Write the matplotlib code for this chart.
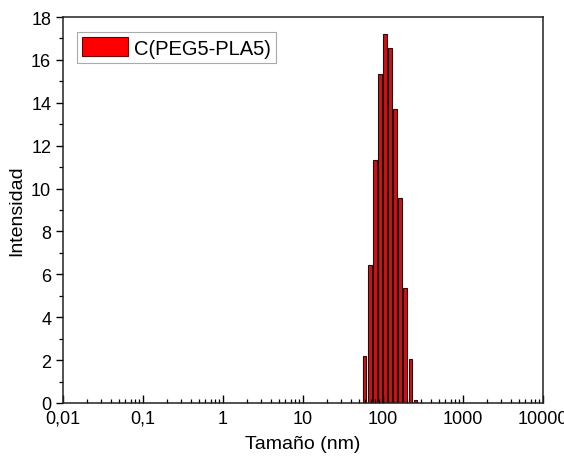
import numpy as np
import matplotlib
matplotlib.use("Agg")
import matplotlib.pyplot as plt
from matplotlib.ticker import FixedLocator, FixedFormatter, LogLocator, NullFormatter

# ------- data -------
sizes_nm = [58.77, 68.06, 78.82, 91.28, 105.7, 122.4, 141.8, 164.2, 190.1, 220.2, 255.0]
intensity = [2.2, 6.45, 11.35, 15.35, 17.2, 16.55, 13.7, 9.55, 5.35, 2.05, 0.15]
series_label = "C(PEG5-PLA5)"

xtick_vals = [0.01, 0.1, 1, 10, 100, 1000, 10000]
xtick_labels = ["0,01", "0,1", "1", "10", "100", "1000", "10000"]
yticks = [0, 2, 4, 6, 8, 10, 12, 14, 16, 18]

plt.rcParams["font.family"] = ["Liberation Sans", "DejaVu Sans"]

fig = plt.figure(figsize=(5.64, 4.60), dpi=100)
ax = fig.add_axes([63 / 564, 56 / 460, 480 / 564, 386 / 460])

# bars centred on log-spaced size classes, width as fraction of the class step
x = np.array(sizes_nm)
step = np.log10(x[1] / x[0])
half = 0.75 * step / 2
left = x * 10 ** (-half)
right = x * 10 ** half
ax.bar(left, intensity, width=right - left, align="edge",
       color="#B51C20", edgecolor="#3a0505", linewidth=0.8, label=series_label)

ax.set_xscale("log")
ax.set_xlim(0.01, 10000)
ax.set_ylim(0, 18)

ax.xaxis.set_major_locator(FixedLocator(xtick_vals))
ax.xaxis.set_major_formatter(FixedFormatter(xtick_labels))
ax.xaxis.set_minor_locator(LogLocator(base=10, subs=np.arange(2, 10), numticks=20))
ax.xaxis.set_minor_formatter(NullFormatter())
ax.set_yticks(yticks)
ax.set_yticks(np.arange(1, 18, 2), minor=True)

ax.tick_params(axis="x", which="major", direction="in", length=6, width=1, labelsize=13, pad=5)
ax.tick_params(axis="x", which="minor", direction="in", length=3.2, width=0.9)
ax.tick_params(axis="y", which="major", direction="out", length=5, width=1, labelsize=13)
ax.tick_params(axis="y", which="minor", direction="out", length=3, width=0.9)

for s in ax.spines.values():
    s.set_linewidth(1.1)
    s.set_color("#222222")

ax.set_xlabel("Tamaño (nm)", fontsize=14, labelpad=6)
ax.set_ylabel("Intensidad", fontsize=14, labelpad=4)

leg = ax.legend(loc="upper left", bbox_to_anchor=(0.029, 0.961), borderaxespad=0,
                fontsize=14.5, handlelength=2.3, handleheight=1.1, handletextpad=0.3,
                borderpad=0.25, fancybox=False, framealpha=1, edgecolor="#aaaaaa")
leg.get_frame().set_linewidth(0.8)
for h in leg.legend_handles:
    h.set_facecolor("#FF0000")
    h.set_edgecolor("#6a0000")

fig.savefig("out.png", dpi=100)
